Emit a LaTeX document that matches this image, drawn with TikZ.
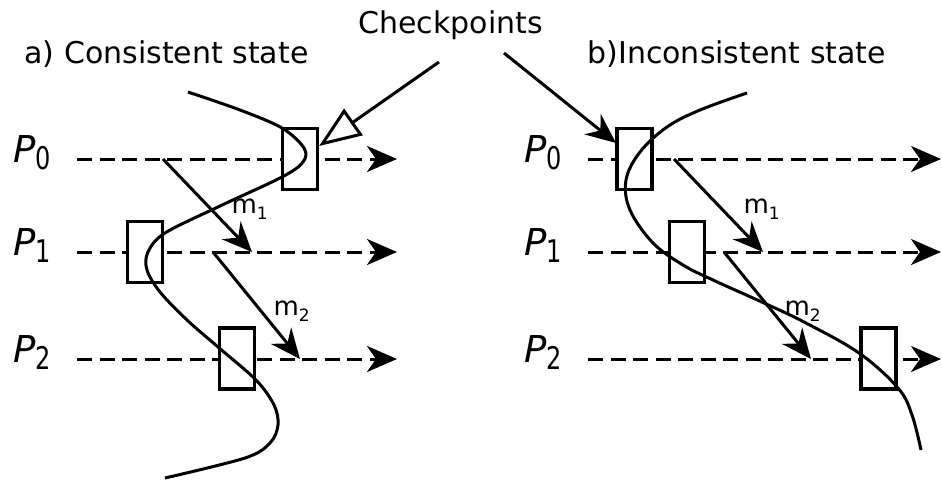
\documentclass[tikz,border=0pt]{standalone}
\usepackage{fontspec}
\setmainfont{DejaVu Sans}
\usetikzlibrary{arrows.meta}
\newcommand{\proc}[1]{\fontsize{37}{40}\selectfont\textit{P}\raisebox{-7pt}{\fontsize{24}{24}\selectfont\scalebox{1}[1.3]{#1}}}
\newcommand{\msg}[1]{\fontsize{26}{28}\selectfont m\raisebox{-6pt}{\fontsize{17}{17}\selectfont #1}}
\tikzset{
  timeline/.style={dash pattern=on 15pt off 7.5pt,-{Stealth[length=30pt,width=26pt,inset=9pt]}},
  message/.style={-{Stealth[length=30pt,width=26pt,inset=10pt]}},
  ckpt/.style={draw,fill=white,line width=3.2pt,minimum width=35pt,minimum height=61pt,inner sep=0pt},
  lbl/.style={anchor=base west,inner sep=0pt}
}
\begin{document}
\begin{tikzpicture}[x=1pt,y=-1pt,line width=3pt,font=\fontsize{30}{36}\selectfont]
	\useasboundingbox (0,0) rectangle (942,483);

	\node[lbl] (title) at (357,33) {Checkpoints};
	\node[lbl] (capA) at (23,63) {a) Consistent state};
	\node[lbl] (capB) at (586,63) {b)Inconsistent state};

	% a) consistent
	\foreach \i/\y in {0/159,1/252,2/359} {
		\node[lbl] (pa\i) at (12,\y+3) {\proc{\i}};
		\coordinate (sa\i) at (77,\y);
		\coordinate (ea\i) at (397,\y);
		\draw[timeline] (sa\i) -- (ea\i);
	}
	\coordinate (ma1s) at (163,159);
	\coordinate (ma1e) at (252,252);
	\coordinate (ma2s) at (213,252);
	\coordinate (ma2e) at (300,359);
	\draw[message] (ma1s) -- (ma1e);
	\draw[message] (ma2s) -- (ma2e);
	\node[lbl] (la1) at (230,213) {\msg{1}};
	\node[lbl] (la2) at (272,315) {\msg{2}};
	\node[ckpt] (ca0) at (300,159) {};
	\node[ckpt] (ca1) at (145,252) {};
	\node[ckpt] (ca2) at (237,358.5) {};
	\draw plot[smooth,tension=0.55] coordinates {(188,92) (240,110) (282,128) (304,148) (303,162) (282,177) (220,206) (165,233) (148,252) (147,270) (160,292) (187,320) (218,347) (256,380) (274,405) (278,425) (270,443) (245,458) (165,478)};

	% b) inconsistent
	\foreach \i/\y in {0/159,1/252,2/359} {
		\node[lbl] (pb\i) at (523,\y+3) {\proc{\i}};
		\coordinate (sb\i) at (588,\y);
		\coordinate (eb\i) at (941,\y);
		\draw[timeline] (sb\i) -- (eb\i);
	}
	\coordinate (mb1s) at (674,159);
	\coordinate (mb1e) at (763,252);
	\coordinate (mb2s) at (724,252);
	\coordinate (mb2e) at (811,359);
	\draw[message] (mb1s) -- (mb1e);
	\draw[message] (mb2s) -- (mb2e);
	\node[lbl] (lb1) at (742,213) {\msg{1}};
	\node[lbl] (lb2) at (783,315) {\msg{2}};
	\node[ckpt] (cb0) at (634.5,159) {};
	\node[ckpt] (cb1) at (687,252) {};
	\node[ckpt] (cb2) at (878.5,358.5) {};
	\draw plot[smooth,tension=0.6] coordinates {(747,93) (700,110) (667,127) (640,152) (626,180) (630,210) (653,243) (683,265) (713,280) (764,303) (804,322) (859,353) (898,388) (912,415) (921,450)};

	% pointers from the title
	\coordinate (ta) at (439,62);
	\coordinate (tb) at (504,53);
	\draw[-{Triangle[open,length=42pt,width=32pt]}] (ta) -- (ca0.north east |- 0,146);
	\draw[message] (tb) -- (616,143);
\end{tikzpicture}
\end{document}
